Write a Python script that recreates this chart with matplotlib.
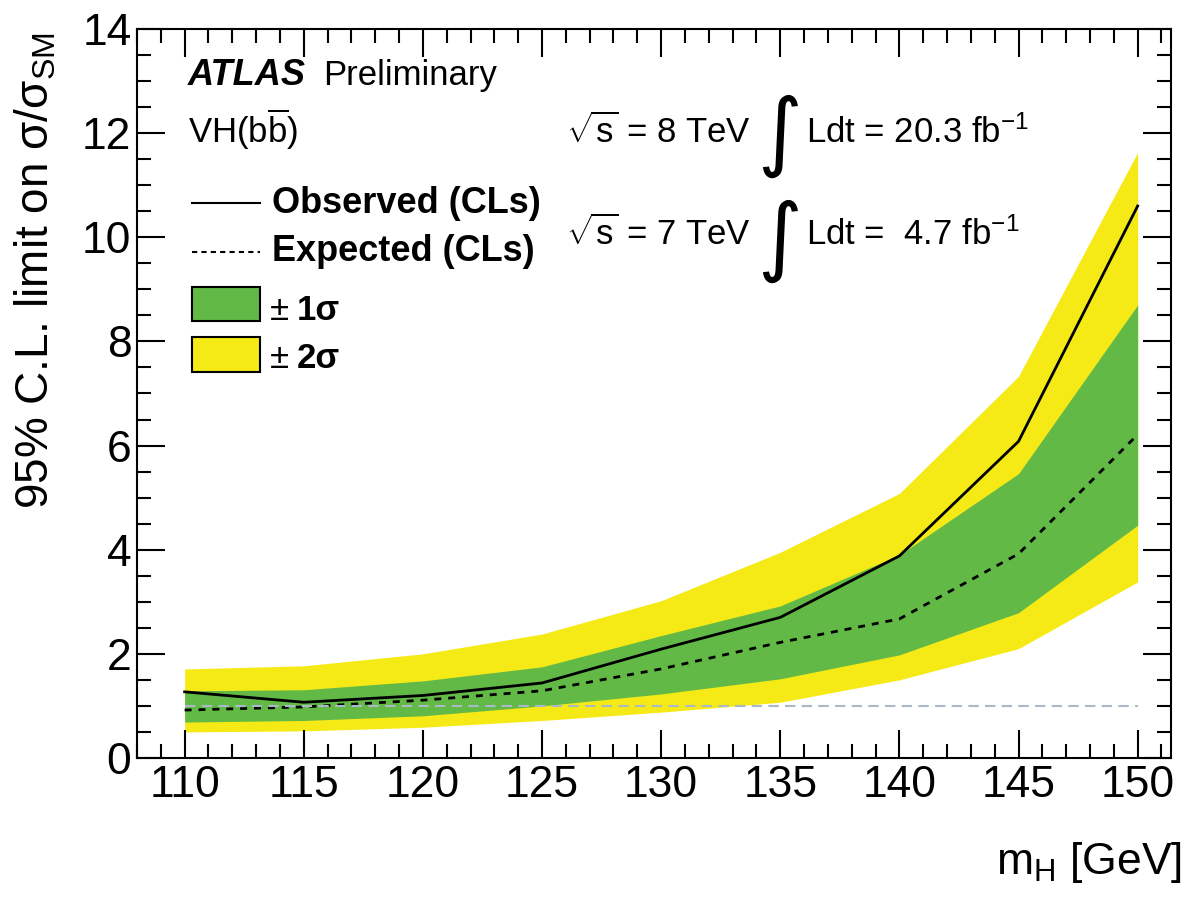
import matplotlib
matplotlib.use("Agg")
import matplotlib.pyplot as plt
from matplotlib.ticker import MultipleLocator
from matplotlib.patches import Rectangle
from matplotlib.lines import Line2D

plt.rcParams['font.family'] = ['Liberation Sans', 'DejaVu Sans']
plt.rcParams['mathtext.fontset'] = 'custom'
plt.rcParams['mathtext.rm'] = 'Liberation Sans'
plt.rcParams['mathtext.it'] = 'Liberation Sans:italic'
plt.rcParams['mathtext.bf'] = 'Liberation Sans:bold'

mass = [110, 115, 120, 125, 130, 135, 140, 145, 150]
observed = [1.27, 1.07, 1.20, 1.44, 2.09, 2.70, 3.88, 6.08, 10.60]
expected = [0.92, 0.98, 1.11, 1.29, 1.71, 2.22, 2.67, 3.92, 6.21]
band1_hi = [1.29, 1.31, 1.48, 1.75, 2.35, 2.92, 3.90, 5.46, 8.70]
band1_lo = [0.69, 0.72, 0.81, 1.00, 1.23, 1.52, 1.98, 2.79, 4.47]
band2_hi = [1.71, 1.77, 2.00, 2.38, 3.02, 3.95, 5.08, 7.33, 11.63]
band2_lo = [0.50, 0.52, 0.59, 0.72, 0.88, 1.07, 1.50, 2.10, 3.38]
sm_ref = [1.0, 1.0]
sm_x = [110, 150]

YELLOW = '#f5ea16'
GREEN = '#62b946'

fig = plt.figure(figsize=(11.88, 8.97), dpi=100)
ax = fig.add_axes([0.1153, 0.155, 0.8704, 0.8127])

ax.fill_between(mass, band2_lo, band2_hi, color=YELLOW, lw=0, zorder=1)
ax.fill_between(mass, band1_lo, band1_hi, color=GREEN, lw=0, zorder=2)
ax.plot(mass, expected, color='black', lw=2, ls=(0, (2.5, 2.5)), zorder=4)
ax.plot(mass, observed, color='black', lw=2, zorder=4)
ax.plot(sm_x, sm_ref, color='#a9b9c9', lw=1.5, ls=(0, (5, 3)), zorder=5)

ax.set_xlim(108, 151.4)
ax.set_ylim(0, 14)
ax.xaxis.set_major_locator(MultipleLocator(5))
ax.xaxis.set_minor_locator(MultipleLocator(1))
ax.yaxis.set_major_locator(MultipleLocator(2))
ax.yaxis.set_minor_locator(MultipleLocator(0.5))
ax.tick_params(which='both', direction='in', top=True, right=True, width=1.5, colors='black')
ax.tick_params(which='major', length=20, labelsize=32)
ax.tick_params(axis='x', which='major', pad=5)
ax.tick_params(axis='y', which='major', pad=4)
ax.tick_params(which='minor', length=10)
for s in ax.spines.values():
    s.set_linewidth(1.5)

ax.set_ylabel('95% C.L. limit on σ/σ$_{\\mathrm{SM}}$', fontsize=33, loc='top')
ax.yaxis.set_label_coords(-0.076, 0.995)
ax.set_xlabel(r'm$_{\mathrm{H}}$ [GeV]', fontsize=32, loc='right')
ax.xaxis.set_label_coords(1.011, -0.112)

tr = ax.transAxes
def fx(px):
    return (px - 137) / (1171 - 137)
def fy(py):
    return (758 - py) / (758 - 29)

ax.text(fx(188), fy(85), 'ATLAS', fontsize=26, fontweight='bold', fontstyle='italic', transform=tr, va='baseline', ha='left')
ax.text(fx(323), fy(85), 'Preliminary', fontsize=25, transform=tr, va='baseline', ha='left')
ax.text(fx(188), fy(143), r'VH(b$\overline{\mathrm{b}}$)', fontsize=25, transform=tr, va='baseline', ha='left')

# legend
ax.add_line(Line2D([fx(192), fx(260)], [fy(203), fy(203)], color='black', lw=1.5, transform=tr))
ax.add_line(Line2D([fx(192), fx(260)], [fy(252), fy(252)], color='black', lw=1.5, ls=(0, (2.5, 2)), transform=tr))
ax.text(fx(272), fy(213), 'Observed (CLs)', fontsize=26, fontweight='bold', transform=tr, va='baseline', ha='left')
ax.text(fx(272), fy(261), 'Expected (CLs)', fontsize=26, fontweight='bold', transform=tr, va='baseline', ha='left')
ax.add_patch(Rectangle((fx(192), fy(321)), fx(260) - fx(192), fy(287) - fy(321), facecolor=GREEN, edgecolor='black', lw=1.5, transform=tr, zorder=6))
ax.add_patch(Rectangle((fx(192), fy(372)), fx(260) - fx(192), fy(337) - fy(372), facecolor=YELLOW, edgecolor='black', lw=1.5, transform=tr, zorder=6))
ax.text(fx(270), fy(320), '±', fontsize=25, transform=tr, va='baseline', ha='left')
ax.text(fx(297), fy(320), '1σ', fontsize=25, fontweight='bold', transform=tr, va='baseline', ha='left')
ax.text(fx(270), fy(368), '±', fontsize=25, transform=tr, va='baseline', ha='left')
ax.text(fx(297), fy(368), '2σ', fontsize=25, fontweight='bold', transform=tr, va='baseline', ha='left')

# energy / lumi
for base, cen, e, lumi in [(143, 136, '8', '20.3'), (245, 241, '7', ' 4.7')]:
    ax.text(fx(566), fy(base), r'$\sqrt{\mathrm{s}}$ = ' + e + ' TeV', fontsize=25, transform=tr, va='baseline', ha='left')
    ax.text(fx(757), fy(cen), '∫', fontsize=62, transform=tr, va='center', ha='left', family=['DejaVu Sans'])
    ax.text(fx(806), fy(base), 'Ldt = ' + lumi + r' fb$^{\mathregular{-1}}$', fontsize=25, transform=tr, va='baseline', ha='left')

fig.savefig('out.png', dpi=100)
